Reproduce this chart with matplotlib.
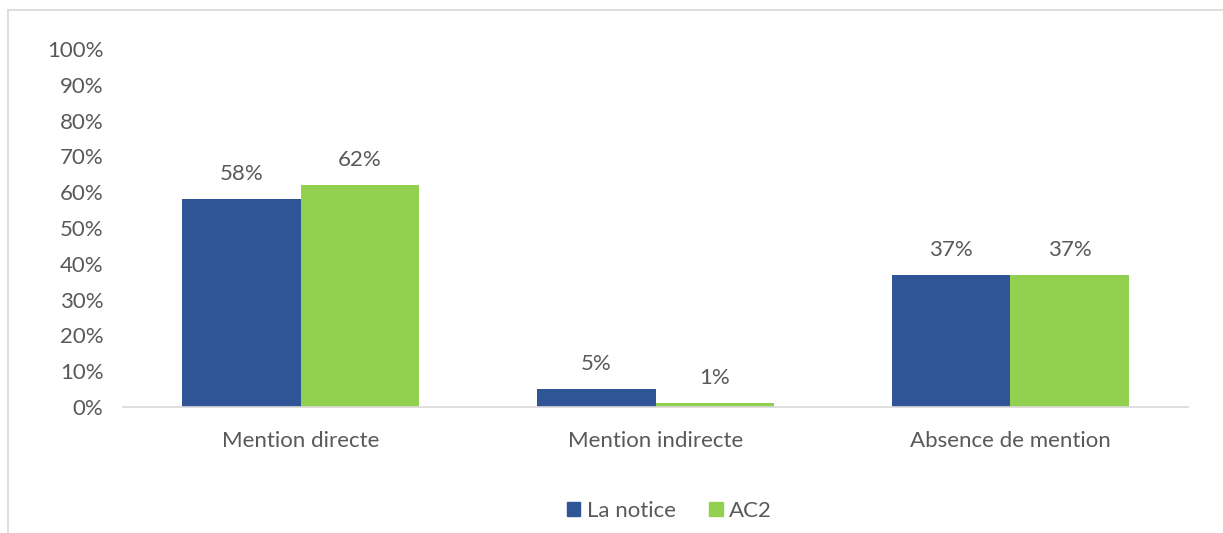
import numpy as np
import matplotlib.pyplot as plt
from matplotlib.lines import Line2D
from matplotlib.patches import Patch

categories = ['Mention directe', 'Mention indirecte', 'Absence de mention']
notice = [58, 5, 37]
ac2 = [62, 1, 37]
series_names = ['La notice', 'AC2']
yticks = list(range(0, 101, 10))

plt.rcParams['font.family'] = ['Lato', 'DejaVu Sans']
TXT = '#595959'
BLUE = '#2F5597'
GREEN = '#92D050'
FS = 16

W, H = 1223, 533
fig = plt.figure(figsize=(W / 100, H / 100), dpi=100)
ax = fig.add_axes([123 / W, (H - 407) / H, (1188 - 123) / W, (407 - 49) / H])

x = np.arange(len(categories))
w = 1 / 3
b1 = ax.bar(x - w / 2, notice, w, color=BLUE, label=series_names[0])
b2 = ax.bar(x + w / 2, ac2, w, color=GREEN, label=series_names[1])

for bars, vals in [(b1, notice), (b2, ac2)]:
    for r, v in zip(bars, vals):
        ax.text(r.get_x() + r.get_width() / 2, v + 4.2, '{0}%'.format(v),
                ha='center', va='bottom', fontsize=FS, color=TXT)

ax.set_xlim(-0.5, 2.5)
ax.set_ylim(0, 100)
ax.set_yticks(yticks)
ax.set_yticklabels(['{0}%'.format(t) for t in yticks])
ax.set_xticks(x)
ax.set_xticklabels(categories)
ax.tick_params(axis='both', length=0, labelsize=FS, labelcolor=TXT)
ax.tick_params(axis='y', pad=14)
ax.tick_params(axis='x', pad=17)
for s in ['top', 'right', 'left']:
    ax.spines[s].set_visible(False)
ax.spines['bottom'].set_color('#D9D9D9')
ax.spines['bottom'].set_linewidth(1.2)

handles = [Patch(color=BLUE), Patch(color=GREEN)]
fig.legend(handles, series_names, loc='center', bbox_to_anchor=(0.5475, (H - 511) / H),
           ncol=2, frameon=False, fontsize=FS, labelcolor=TXT,
           handlelength=0.6, handleheight=0.6, handletextpad=0.3, columnspacing=1.5)

# chart frame (cropped on right and bottom)
fig.add_artist(Line2D([8 / W, 1], [(H - 10) / H, (H - 10) / H], color='#D9D9D9', lw=1.2))
fig.add_artist(Line2D([8 / W, 8 / W], [0, (H - 10) / H], color='#D9D9D9', lw=1.2))

fig.savefig('out.png', dpi=100)
